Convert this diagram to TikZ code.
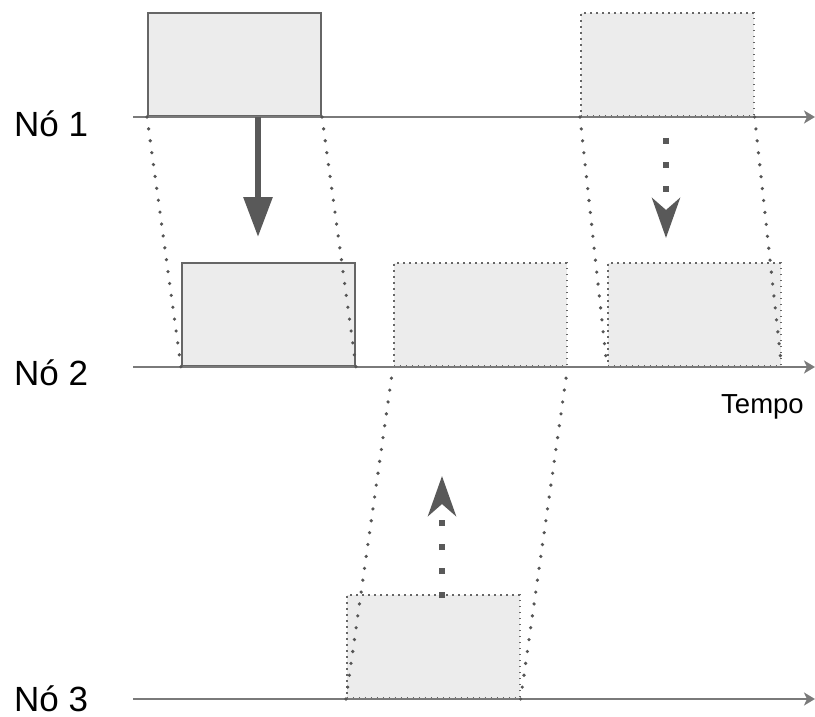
\documentclass[tikz,border=0pt]{standalone}
\usepackage{fontspec}
\setmainfont{Liberation Sans}
\usetikzlibrary{arrows.meta}
\definecolor{boxfill}{HTML}{ECECEC}
\definecolor{boxline}{HTML}{666666}
\definecolor{linkcol}{HTML}{555555}
\definecolor{axisline}{HTML}{7A7A7A}
\definecolor{arrowcol}{HTML}{595959}
\begin{document}
\begin{tikzpicture}[x=1pt,y=-1pt,
  axis/.style={draw=axisline,line width=2pt,-{Stealth[length=11pt,width=13pt,inset=3pt]}},
  lab/.style={font=\fontsize{35}{40}\selectfont,anchor=base west,inner sep=0pt},
  solidbox/.style={draw=boxline,line width=2pt,fill=boxfill,minimum width=173pt,minimum height=103pt,inner sep=0pt,anchor=south west},
  dotbox/.style={draw=boxline,line width=1.6pt,dash pattern=on 1.6pt off 4.4pt,fill=boxfill,minimum width=173pt,minimum height=103pt,inner sep=0pt,anchor=south west},
  link/.style={draw=linkcol,line width=3.6pt,line cap=round,dash pattern=on 0pt off 12pt},
  bigarrow/.style={draw=arrowcol,line width=6pt,-{Triangle[length=40pt,width=28pt]}},
  dotarrow/.style={draw=arrowcol,line width=6pt,dash pattern=on 6pt off 18pt,-{Stealth[length=40pt,width=28pt,inset=12pt]}}
]
\useasboundingbox (0,0) rectangle (815,717);
% axes
\coordinate (a1s) at (133,117); \coordinate (a1e) at (815,117);
\coordinate (a2s) at (133,367); \coordinate (a2e) at (815,367);
\coordinate (a3s) at (133,699); \coordinate (a3e) at (815,699);
% boxes
\node[solidbox] (A) at (147,117) {};
\node[solidbox] (B) at (181,367) {};
\node[dotbox] (C) at (393,367) {};
\node[dotbox] (D) at (580,117) {};
\node[dotbox] (E) at (607,367) {};
\node[dotbox] (F) at (346,699) {};
\draw[axis] (a1s) -- (a1e);
\draw[axis] (a2s) -- (a2e);
\draw[axis] (a3s) -- (a3e);
% labels
\node[lab] (n1) at (14,136) {Nó 1};
\node[lab] (n2) at (14,385) {Nó 2};
\node[lab] (n3) at (14,711) {Nó 3};
\node[font=\fontsize{27.5}{32}\selectfont,anchor=base west,inner sep=0pt] (tempo) at (721,413) {Tempo};
% dotted links
\draw[link] (A.south west) -- (B.south west);
\draw[link] (A.south east) -- (B.south east);
\draw[link] (D.south west) -- (E.south west);
\draw[link] (D.south east) -- (E.south east);
\draw[link] (F.south west) -- (C.south west);
\draw[link] (F.south east) -- (C.south east);
% arrows
\coordinate (ar1s) at (258,117); \coordinate (ar1e) at (258,237);
\draw[bigarrow] (ar1s) -- (ar1e);
\coordinate (ar2s) at (666,138); \coordinate (ar2e) at (666,238);
\draw[dotarrow] (ar2s) -- (ar2e);
\coordinate (ar3s) at (442,598); \coordinate (ar3e) at (442,476);
\draw[dotarrow] (ar3s) -- (ar3e);
\end{tikzpicture}
\end{document}
